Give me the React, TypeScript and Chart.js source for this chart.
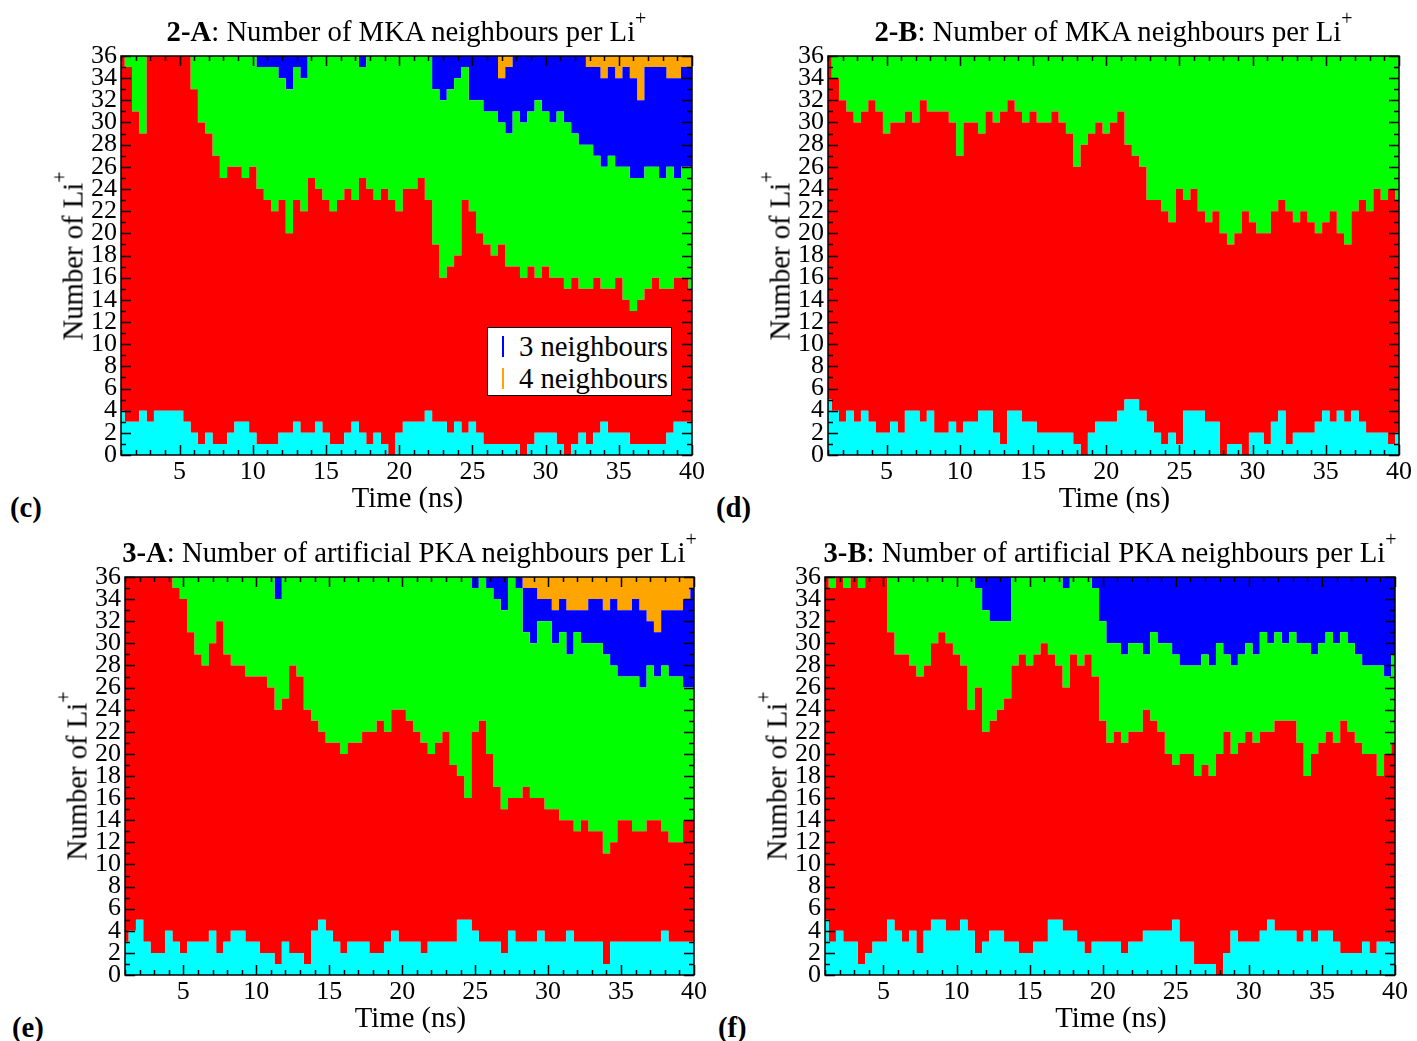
import React, { useEffect, useRef } from 'react';
import { Chart, registerables } from 'chart.js';

Chart.register(...registerables);

const FONT = "'Liberation Serif', 'DejaVu Serif', serif";

// Sampling times (ns)
const TIME_NS = [
  1, 1.5, 2, 2.5, 3, 3.5, 4, 4.5, 5, 5.5,
  6, 6.5, 7, 7.5, 8, 8.5, 9, 9.5, 10, 10.5,
  11, 11.5, 12, 12.5, 13, 13.5, 14, 14.5, 15, 15.5,
  16, 16.5, 17, 17.5, 18, 18.5, 19, 19.5, 20, 20.5,
  21, 21.5, 22, 22.5, 23, 23.5, 24, 24.5, 25, 25.5,
  26, 26.5, 27, 27.5, 28, 28.5, 29, 29.5, 30, 30.5,
  31, 31.5, 32, 32.5, 33, 33.5, 34, 34.5, 35, 35.5,
  36, 36.5, 37, 37.5, 38, 38.5, 39, 39.5, 40,
];

const TOTAL_LI = 36;
const X_TICKS = [5, 10, 15, 20, 25, 30, 35, 40];
const Y_TICKS = [0, 2, 4, 6, 8, 10, 12, 14, 16, 18, 20, 22, 24, 26, 28, 30, 32, 34, 36];

// Cumulative number of Li+ having at most n neighbours (panel 2-A)
const A2_upTo0 = [
  4, 3, 3, 4, 3, 4, 4, 4, 4, 3,
  2, 1, 2, 1, 1, 2, 3, 3, 2, 1,
  1, 1, 2, 2, 3, 2, 2, 3, 2, 1,
  1, 2, 3, 2, 1, 2, 1, 0, 2, 3,
  3, 3, 4, 3, 3, 2, 3, 2, 3, 2,
  1, 1, 1, 1, 1, 0, 1, 2, 2, 2,
  1, 0, 1, 2, 1, 2, 3, 2, 2, 2,
  1, 1, 1, 1, 1, 2, 3, 3, 3,
];
const A2_upTo1 = [
  36, 35, 31, 29, 36, 36, 36, 36, 36, 36,
  33, 30, 29, 27, 25, 26, 26, 25, 26, 24,
  23, 22, 23, 20, 23, 22, 25, 24, 23, 22,
  23, 24, 23, 25, 24, 23, 24, 23, 22, 24,
  24, 25, 23, 19, 16, 17, 18, 23, 22, 20,
  19, 18, 19, 17, 17, 16, 17, 16, 17, 16,
  16, 15, 16, 15, 15, 16, 15, 15, 16, 14,
  13, 14, 15, 16, 15, 15, 16, 16, 15,
];
const A2_upTo2 = [
  36, 36, 36, 36, 36, 36, 36, 36, 36, 36,
  36, 36, 36, 36, 36, 36, 36, 36, 36, 35,
  35, 35, 34, 33, 35, 34, 36, 36, 36, 36,
  36, 36, 36, 35, 36, 36, 36, 36, 36, 36,
  36, 36, 36, 33, 32, 33, 34, 35, 32, 32,
  31, 31, 30, 29, 31, 30, 31, 32, 31, 30,
  31, 30, 29, 28, 28, 27, 26, 27, 26, 26,
  25, 25, 26, 26, 25, 26, 25, 26, 26,
];
const A2_upTo3 = [
  36, 36, 36, 36, 36, 36, 36, 36, 36, 36,
  36, 36, 36, 36, 36, 36, 36, 36, 36, 36,
  36, 36, 36, 36, 36, 36, 36, 36, 36, 36,
  36, 36, 36, 36, 36, 36, 36, 36, 36, 36,
  36, 36, 36, 36, 36, 36, 36, 36, 36, 36,
  36, 36, 34, 35, 36, 36, 36, 36, 36, 36,
  36, 36, 36, 36, 35, 35, 34, 35, 34, 35,
  34, 32, 35, 35, 35, 34, 34, 35, 35,
];

// Panel 2-B
const B2_upTo0 = [
  5, 4, 3, 4, 3, 4, 3, 2, 2, 3,
  2, 4, 4, 3, 4, 2, 2, 3, 2, 3,
  3, 4, 4, 2, 1, 4, 4, 3, 3, 2,
  2, 2, 2, 2, 1, 0, 2, 3, 3, 3,
  4, 5, 5, 4, 3, 2, 1, 2, 1, 4,
  4, 4, 3, 3, 0, 1, 1, 0, 2, 2,
  1, 3, 4, 1, 2, 2, 2, 3, 4, 3,
  4, 3, 4, 3, 2, 2, 2, 1, 2,
];
const B2_upTo1 = [
  36, 34, 32, 31, 30, 31, 32, 31, 29, 30,
  30, 31, 30, 32, 31, 31, 31, 30, 27, 30,
  30, 29, 31, 30, 31, 32, 31, 30, 31, 30,
  30, 31, 30, 29, 26, 28, 29, 30, 29, 30,
  31, 28, 27, 26, 23, 23, 22, 21, 24, 23,
  24, 22, 21, 22, 20, 19, 20, 22, 21, 20,
  20, 22, 23, 22, 21, 22, 21, 20, 21, 22,
  20, 19, 22, 23, 22, 24, 23, 24, 23,
];

// Panel 3-A
const A3_upTo0 = [
  3, 4, 5, 3, 2, 2, 4, 3, 2, 3,
  3, 3, 4, 2, 3, 4, 4, 3, 3, 2,
  2, 1, 3, 2, 2, 1, 4, 5, 4, 3,
  2, 3, 3, 3, 2, 2, 3, 4, 3, 3,
  3, 2, 3, 3, 3, 3, 5, 5, 4, 3,
  3, 3, 2, 4, 3, 3, 3, 4, 3, 3,
  3, 4, 3, 3, 3, 3, 1, 3, 3, 3,
  3, 3, 3, 3, 4, 3, 3, 3, 3,
];
const A3_upTo1 = [
  36, 36, 36, 36, 36, 36, 36, 35, 34, 31,
  29, 28, 30, 32, 29, 28, 28, 27, 27, 27,
  26, 24, 25, 28, 27, 24, 23, 22, 21, 21,
  20, 21, 21, 22, 22, 23, 22, 24, 24, 23,
  22, 21, 20, 21, 22, 19, 18, 16, 22, 23,
  20, 17, 15, 16, 16, 17, 16, 16, 15, 15,
  14, 14, 13, 14, 13, 13, 11, 12, 14, 14,
  13, 13, 14, 14, 13, 12, 12, 14, 14,
];
const A3_upTo2 = [
  36, 36, 36, 36, 36, 36, 36, 36, 36, 36,
  36, 36, 36, 36, 36, 36, 36, 36, 36, 36,
  36, 34, 36, 36, 36, 36, 36, 36, 36, 36,
  36, 36, 36, 36, 36, 36, 36, 36, 36, 36,
  36, 36, 36, 36, 36, 36, 36, 36, 35, 36,
  35, 34, 33, 36, 35, 31, 30, 32, 32, 30,
  31, 29, 31, 30, 30, 30, 29, 28, 27, 27,
  27, 26, 28, 27, 28, 27, 27, 26, 26,
];
const A3_upTo3 = [
  36, 36, 36, 36, 36, 36, 36, 36, 36, 36,
  36, 36, 36, 36, 36, 36, 36, 36, 36, 36,
  36, 36, 36, 36, 36, 36, 36, 36, 36, 36,
  36, 36, 36, 36, 36, 36, 36, 36, 36, 36,
  36, 36, 36, 36, 36, 36, 36, 36, 36, 36,
  36, 36, 36, 36, 36, 35, 35, 34, 34, 33,
  34, 33, 33, 33, 34, 34, 33, 34, 33, 33,
  34, 33, 32, 31, 33, 33, 33, 34, 35,
];

// Panel 3-B
const B3_upTo0 = [
  5, 3, 4, 3, 3, 1, 2, 3, 3, 5,
  4, 3, 4, 2, 4, 5, 5, 4, 4, 5,
  4, 2, 3, 4, 4, 3, 3, 2, 2, 3,
  3, 5, 5, 4, 4, 3, 2, 3, 3, 3,
  3, 2, 3, 3, 4, 4, 4, 4, 5, 3,
  3, 1, 1, 1, 0, 2, 4, 3, 3, 3,
  4, 5, 4, 4, 4, 3, 4, 3, 4, 4,
  3, 2, 2, 2, 3, 2, 3, 3, 3,
];
const B3_upTo1 = [
  36, 35, 36, 35, 36, 35, 36, 36, 36, 31,
  29, 29, 28, 27, 28, 30, 31, 30, 29, 28,
  24, 26, 22, 23, 24, 25, 28, 29, 28, 29,
  30, 29, 28, 26, 29, 28, 29, 27, 23, 21,
  22, 21, 22, 22, 24, 23, 22, 20, 19, 20,
  20, 18, 19, 18, 20, 22, 20, 21, 22, 21,
  22, 22, 23, 23, 23, 21, 18, 20, 21, 22,
  21, 23, 22, 21, 20, 20, 18, 20, 21,
];
const B3_upTo2 = [
  36, 36, 36, 36, 36, 36, 36, 36, 36, 36,
  36, 36, 36, 36, 36, 36, 36, 36, 36, 36,
  36, 35, 33, 32, 32, 32, 36, 36, 36, 36,
  36, 36, 36, 35, 36, 36, 36, 35, 32, 30,
  30, 29, 30, 30, 29, 31, 30, 30, 29, 28,
  28, 28, 29, 28, 30, 29, 28, 29, 30, 29,
  31, 30, 31, 30, 31, 30, 30, 29, 30, 31,
  30, 31, 30, 29, 28, 28, 28, 27, 29,
];

const TOTAL_SERIES = TIME_NS.map(() => TOTAL_LI);

const CYAN = 'rgb(0,255,255)';
const RED = 'rgb(255,0,0)';
const GREEN = 'rgb(0,255,0)';
const BLUE = 'rgb(0,0,255)';
const ORANGE = 'rgb(255,165,0)';

const AXW = 44;
const PADT = 26;
const PADR = 24;
const AXH = 34;
const BIG = 28.7;
const TICK_SIZE = 26;

type Layer = { label: string; color: string; values: number[] };

const frameTicks = {
  id: 'frameTicks',
  afterDatasetsDraw(chart: any) {
    const { ctx, chartArea } = chart;
    const { left, right, top, bottom } = chartArea;
    const xs = chart.scales.x;
    const ys = chart.scales.y;
    ctx.save();
    ctx.strokeStyle = '#000';
    ctx.lineWidth = 1.5;
    ctx.beginPath();
    for (let v = Math.ceil(xs.min); v <= xs.max; v++) {
      const px = Math.round(xs.getPixelForValue(v)) + 0.5;
      const len = v % 5 === 0 ? 10 : 5;
      ctx.moveTo(px, bottom);
      ctx.lineTo(px, bottom - len);
      ctx.moveTo(px, top);
      ctx.lineTo(px, top + len);
    }
    for (let v = ys.min; v <= ys.max; v++) {
      const py = Math.round(ys.getPixelForValue(v)) + 0.5;
      const len = v % 2 === 0 ? 10 : 5;
      ctx.moveTo(left, py);
      ctx.lineTo(left + len, py);
      ctx.moveTo(right, py);
      ctx.lineTo(right - len, py);
    }
    ctx.stroke();
    ctx.lineWidth = 1.5;
    ctx.strokeRect(left, top, right - left, bottom - top);
    ctx.restore();
  },
};

function Panel(props: {
  plotL: number; plotT: number; plotW: number; plotH: number;
  layers: Layer[]; title: React.ReactNode; tag: string; tagLeft: number;
  legend?: boolean;
}) {
  const { plotL, plotT, plotW, plotH, layers, title, tag, tagLeft, legend } = props;
  const ref = useRef<HTMLCanvasElement | null>(null);
  const cw = plotW + AXW + PADR;
  const ch = plotH + PADT + AXH;

  useEffect(() => {
    if (!ref.current) return;
    const datasets = layers.map((l, i) => ({
      label: l.label,
      data: TIME_NS.map((t, k) => ({ x: t, y: l.values[k] })),
      backgroundColor: l.color,
      borderColor: 'rgba(0,0,0,0)',
      borderWidth: 0,
      pointRadius: 0,
      pointHoverRadius: 0,
      stepped: 'middle' as const,
      fill: i === 0 ? 'origin' : '-1',
    }));
    const chart = new Chart(ref.current, {
      type: 'line',
      data: { datasets: datasets as any },
      options: {
        animation: false,
        responsive: false,
        maintainAspectRatio: false,
        events: [],
        layout: { padding: { top: PADT, right: PADR, left: 0, bottom: 0 } },
        plugins: {
          legend: { display: false },
          tooltip: { enabled: false },
          title: { display: false },
        },
        scales: {
          x: {
            type: 'linear',
            min: 1,
            max: 40,
            grid: { display: false, drawTicks: false },
            border: { display: false },
            ticks: {
              font: { family: FONT, size: TICK_SIZE },
              color: '#000',
              padding: 2,
              autoSkip: false,
              maxRotation: 0,
            },
            afterBuildTicks: (s: any) => {
              s.ticks = X_TICKS.map((v) => ({ value: v }));
            },
            afterFit: (s: any) => {
              s.height = AXH;
            },
          },
          y: {
            type: 'linear',
            min: 0,
            max: TOTAL_LI,
            grid: { display: false, drawTicks: false },
            border: { display: false },
            ticks: {
              font: { family: FONT, size: TICK_SIZE },
              color: '#000',
              padding: 4,
              autoSkip: false,
            },
            afterBuildTicks: (s: any) => {
              s.ticks = Y_TICKS.map((v) => ({ value: v }));
            },
            afterFit: (s: any) => {
              s.width = AXW;
            },
          },
        },
      } as any,
      plugins: [frameTicks],
    });
    return () => chart.destroy();
  }, []);

  const plotB = plotT + plotH;
  const textBig: React.CSSProperties = {
    position: 'absolute',
    fontFamily: FONT,
    fontSize: BIG,
    lineHeight: '28px',
    whiteSpace: 'nowrap',
    color: '#000',
  };
  const sup: React.CSSProperties = { fontSize: 20, position: 'relative', top: -16 };

  return (
    <>
      <canvas
        ref={ref}
        width={cw}
        height={ch}
        style={{ position: 'absolute', left: plotL - AXW, top: plotT - PADT, width: cw, height: ch }}
      />
      <div style={{ ...textBig, left: plotL + plotW / 2, top: plotT - 39.5, transform: 'translateX(-50%)' }}>
        {title}
      </div>
      <div style={{ ...textBig, left: plotL + plotW / 2 + 1, top: plotB + 27.5, transform: 'translateX(-50%)' }}>
        Time (ns)
      </div>
      <div style={{ position: 'absolute', left: plotL - 47.5, top: plotT + plotH / 2, width: 0, height: 0 }}>
        <div
          style={{
            ...textBig,
            left: 0,
            top: 0,
            transform: 'translate(-50%, -50%) rotate(-90deg)',
          }}
        >
          Number of Li<span style={sup}>+</span>
        </div>
      </div>
      <div style={{ ...textBig, fontWeight: 'bold', left: tagLeft, top: plotB + 61 - 23.5 }}>{tag}</div>
      {legend ? (
        <div
          style={{
            position: 'absolute',
            left: 487,
            top: 327,
            width: 185,
            height: 69,
            boxSizing: 'border-box',
            background: '#fff',
            border: '1px solid #000',
          }}
        >
          <div style={{ position: 'absolute', left: 14, top: 8, width: 2, height: 21, background: BLUE }} />
          <div style={{ ...textBig, left: 31, top: 4 }}>3 neighbours</div>
          <div style={{ position: 'absolute', left: 14, top: 40, width: 2, height: 21, background: ORANGE }} />
          <div style={{ ...textBig, left: 31, top: 36 }}>4 neighbours</div>
        </div>
      ) : null}
    </>
  );
}

export default function App() {
  const sup: React.CSSProperties = { fontSize: 20, position: 'relative', top: -16 };
  const layersA2: Layer[] = [
    { label: '0 neighbours', color: CYAN, values: A2_upTo0 },
    { label: '1 neighbour', color: RED, values: A2_upTo1 },
    { label: '2 neighbours', color: GREEN, values: A2_upTo2 },
    { label: '3 neighbours', color: BLUE, values: A2_upTo3 },
    { label: '4 neighbours', color: ORANGE, values: TOTAL_SERIES },
  ];
  const layersB2: Layer[] = [
    { label: '0 neighbours', color: CYAN, values: B2_upTo0 },
    { label: '1 neighbour', color: RED, values: B2_upTo1 },
    { label: '2 neighbours', color: GREEN, values: TOTAL_SERIES },
  ];
  const layersA3: Layer[] = [
    { label: '0 neighbours', color: CYAN, values: A3_upTo0 },
    { label: '1 neighbour', color: RED, values: A3_upTo1 },
    { label: '2 neighbours', color: GREEN, values: A3_upTo2 },
    { label: '3 neighbours', color: BLUE, values: A3_upTo3 },
    { label: '4 neighbours', color: ORANGE, values: TOTAL_SERIES },
  ];
  const layersB3: Layer[] = [
    { label: '0 neighbours', color: CYAN, values: B3_upTo0 },
    { label: '1 neighbour', color: RED, values: B3_upTo1 },
    { label: '2 neighbours', color: GREEN, values: B3_upTo2 },
    { label: '3 neighbours', color: BLUE, values: TOTAL_SERIES },
  ];
  return (
    <div style={{ position: 'absolute', left: 0, top: 0, width: 1417, height: 1041, background: '#fff', overflow: 'hidden' }}>
      <Panel
        plotL={121} plotT={56} plotW={571} plotH={399}
        layers={layersA2}
        title={<><b>2-A</b>: Number of MKA neighbours per Li<span style={sup}>+</span></>}
        tag="(c)" tagLeft={10} legend
      />
      <Panel
        plotL={828} plotT={56} plotW={571} plotH={399}
        layers={layersB2}
        title={<><b>2-B</b>: Number of MKA neighbours per Li<span style={sup}>+</span></>}
        tag="(d)" tagLeft={716}
      />
      <Panel
        plotL={125} plotT={577} plotW={569} plotH={398}
        layers={layersA3}
        title={<><b>3-A</b>: Number of artificial PKA neighbours per Li<span style={sup}>+</span></>}
        tag="(e)" tagLeft={12}
      />
      <Panel
        plotL={825} plotT={577} plotW={570} plotH={398}
        layers={layersB3}
        title={<><b>3-B</b>: Number of artificial PKA neighbours per Li<span style={sup}>+</span></>}
        tag="(f)" tagLeft={718}
      />
    </div>
  );
}
